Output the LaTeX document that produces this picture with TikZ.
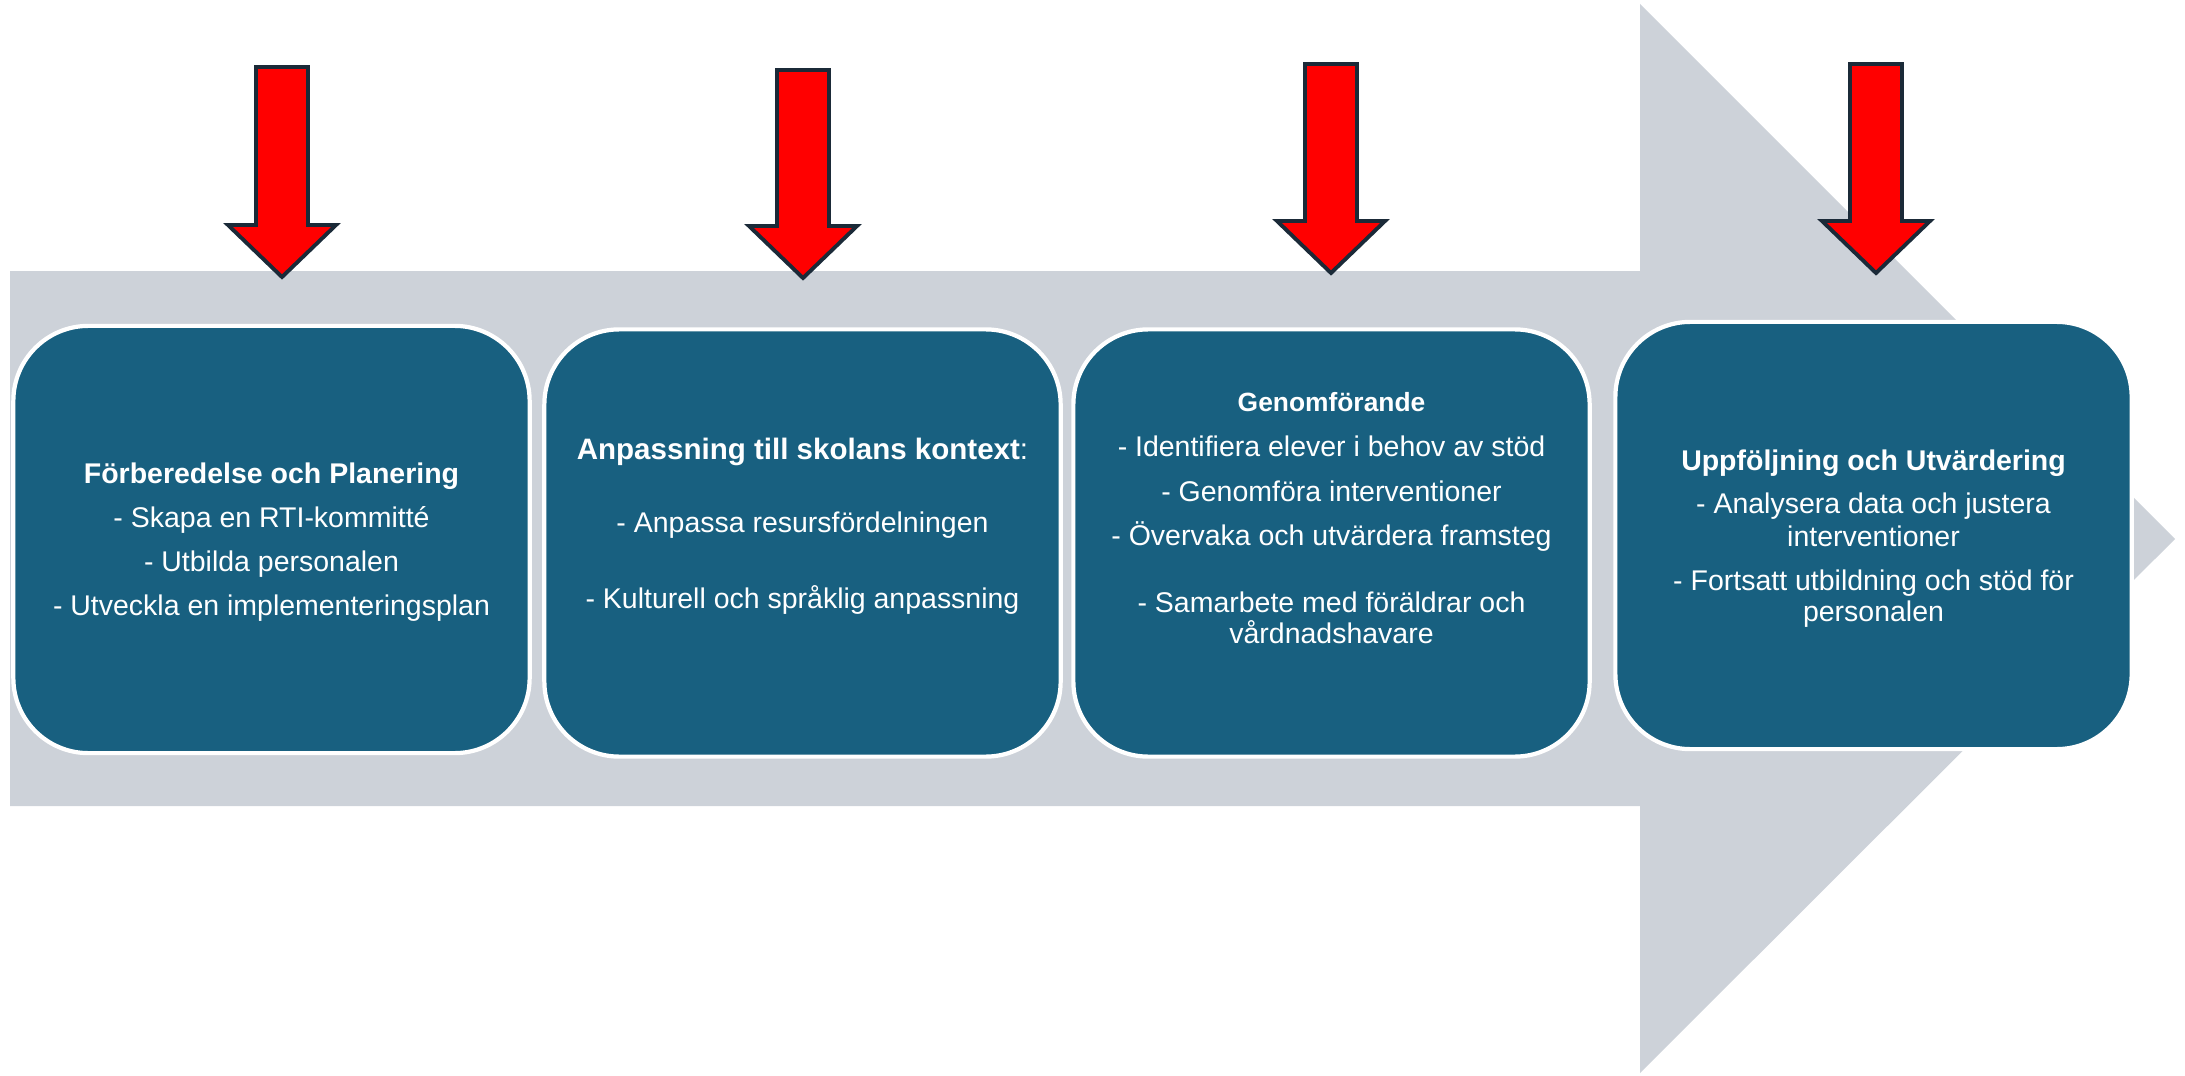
\documentclass[tikz,border=0pt]{standalone}
\usepackage{fontspec}
\setmainfont{Liberation Sans}
\usetikzlibrary{positioning}
\definecolor{StageBlue}{RGB}{24,96,128}
\definecolor{ProcessGray}{RGB}{205,210,217}
\definecolor{MarkerRed}{RGB}{255,0,0}
\definecolor{MarkerEdge}{RGB}{27,42,56}
\tikzstyle{process} = [fill=ProcessGray]
\tikzstyle{stage} = [rectangle, rounded corners=0.75cm, fill=StageBlue, draw=white, line width=1.2pt, minimum width=5.16cm, minimum height=4.27cm]
\tikzstyle{stagetext} = [text=white, align=center, anchor=base, inner sep=0pt, font=\fontsize{8.1}{8.8}\selectfont]
\tikzstyle{marker} = [fill=MarkerRed, draw=MarkerEdge, line width=1.1pt, line join=miter]

\begin{document}
\begin{tikzpicture}[x=0.01cm, y=-0.01cm]
    \useasboundingbox (0,0) rectangle (2185,1076);

    % Process arrow
    \fill[process] (10,271) -- (1640,271) -- (1640,4) -- (2175,539) -- (1640,1073) -- (1640,806) -- (10,806) -- cycle;

    % Markers
    \foreach \cx/\top/\tip in {282/67/277, 803/70/278, 1331/64/273, 1876/64/273}
        \draw[marker] (\cx-26,\top) -- (\cx+26,\top) -- (\cx+26,\tip-52) -- (\cx+54,\tip-52)
            -- (\cx,\tip) -- (\cx-54,\tip-52) -- (\cx-26,\tip-52) -- cycle;

    % Stages
    \node[stage] (stage1) at (271.5,539.5) {};
    \node[stage] (stage2) at (802.5,543) {};
    \node[stage] (stage3) at (1331.5,543) {};
    \node[stage] (stage4) at (1873.5,535.5) {};

    % Stage texts (anchored at the last baseline)
    \node[stagetext] (plan) at (271.5,615) {
        {\bfseries Förberedelse och Planering}\\[3.7pt]
        - Skapa en RTI-kommitté\\[3.7pt]
        - Utbilda personalen\\[3.7pt]
        - Utveckla en implementeringsplan};
    \node[stagetext] (context) at (802.5,608) {
        {\fontsize{8.4}{8.8}\selectfont\bfseries Anpassning till skolans kontext}{\fontsize{8.4}{8.8}\selectfont :}\\[11.7pt]
        - Anpassa resursfördelningen\\[12.8pt]
        - Kulturell och språklig anpassning};
    \node[stagetext] (action) at (1331.5,643) {
        {\fontsize{7.5}{8.8}\selectfont\bfseries Genomförande}\\[4pt]
        - Identifiera elever i behov av stöd\\[4pt]
        - Genomföra interventioner\\[3.7pt]
        - Övervaka och utvärdera framsteg\\[10pt]
        - Samarbete med föräldrar och\\
        vårdnadshavare};
    \node[stagetext] (review) at (1873.5,621) {
        {\bfseries Uppföljning och Utvärdering}\\[3.4pt]
        - Analysera data och justera\\[0.6pt]
        interventioner\\[3.7pt]
        - Fortsatt utbildning och stöd för\\
        personalen};
\end{tikzpicture}
\end{document}
